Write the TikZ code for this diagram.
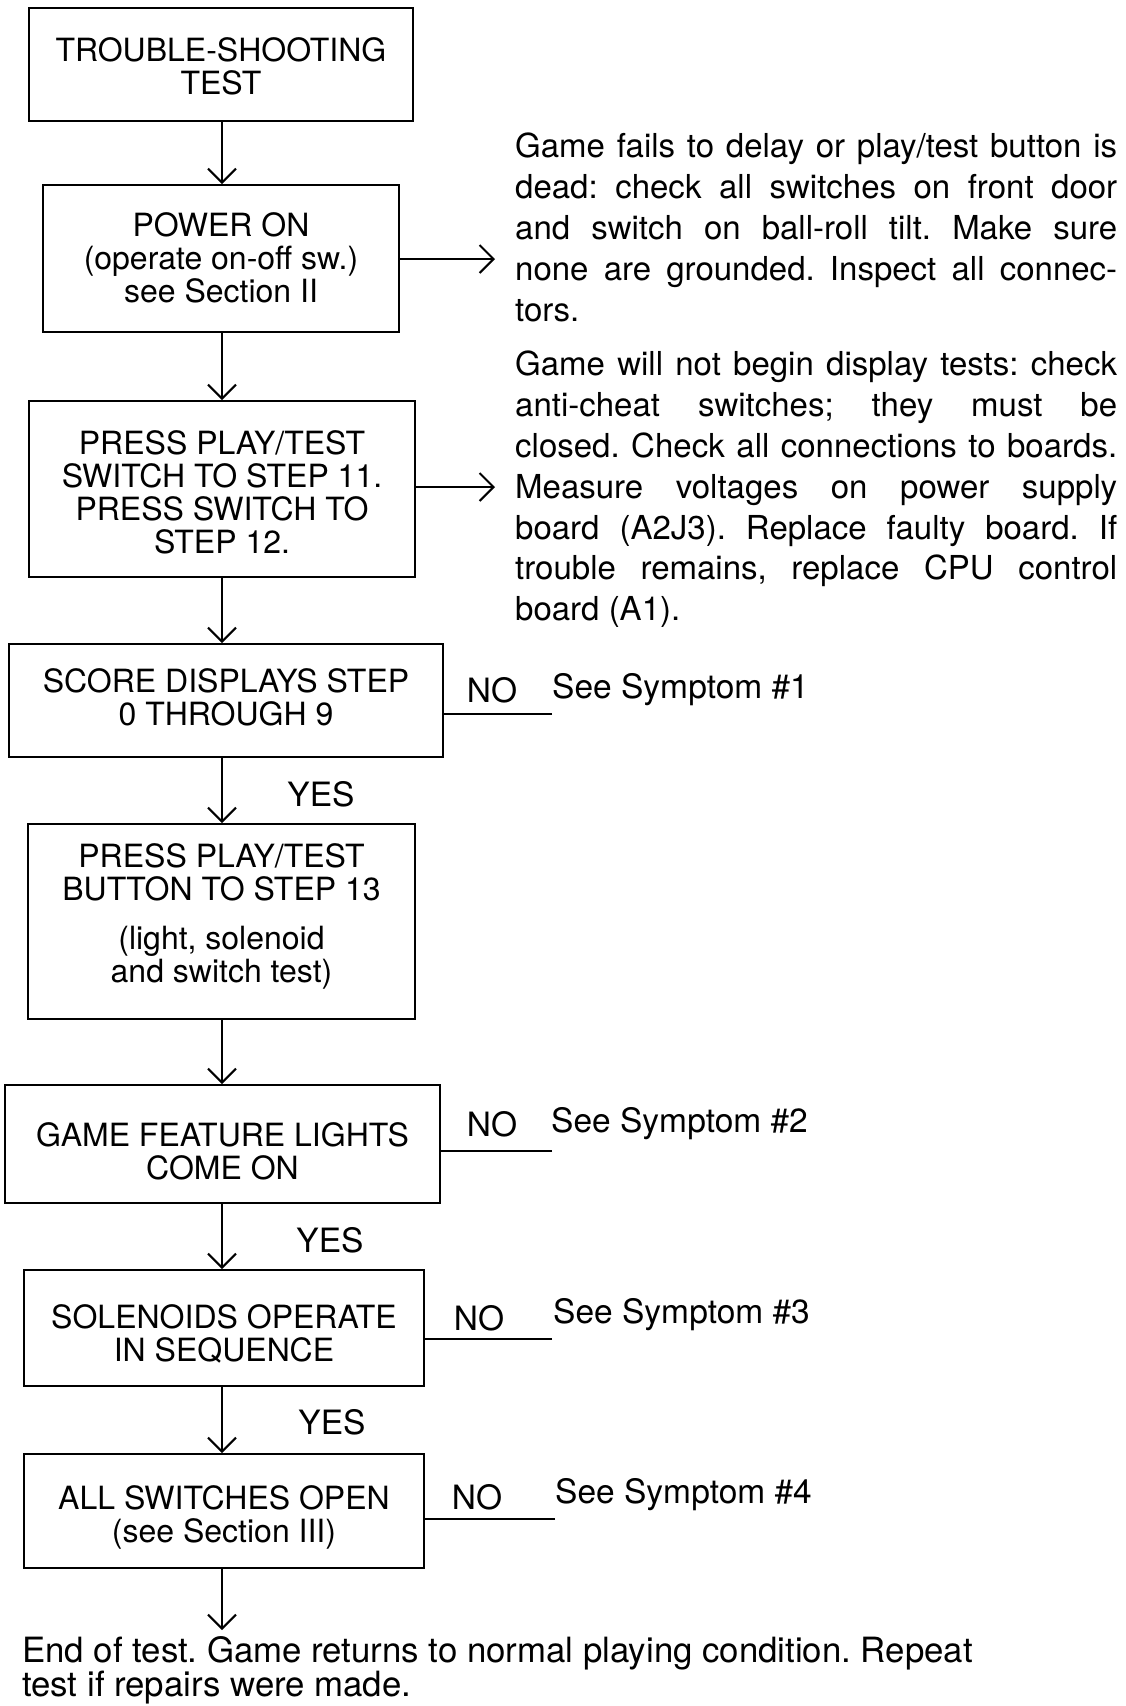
\documentclass[tikz,border=0pt]{standalone}
\usepackage{fontspec}
\setmainfont{TeX Gyre Heros}
\usetikzlibrary{arrows.meta}
\frenchspacing
\begin{document}
\begin{tikzpicture}[x=1pt,y=-1pt,
  box/.style={draw, line width=2pt, rectangle, inner sep=0pt},
  btxt/.style={align=center, inner sep=0pt, font=\fontsize{32}{33}\selectfont\frenchspacing},
  arr/.style={line width=2pt, -{Straight Barb[length=14pt,width=28pt]}},
  ln/.style={line width=2pt},
  lbl/.style={inner sep=0pt, font=\fontsize{33.5}{40.8}\selectfont},
  para/.style={inner sep=0pt, text width=602pt, align=justify,
    font=\fontsize{33}{40.8}\selectfont\frenchspacing}]
\useasboundingbox (0,0) rectangle (1125,1706);
% boxes
\node[box, minimum width=384pt, minimum height=113pt] (b1) at (221,64.5) {};
\node[box, minimum width=356pt, minimum height=147pt] (b2) at (221,258.5) {};
\node[box, minimum width=386pt, minimum height=176pt] (b3) at (222,489) {};
\node[box, minimum width=434pt, minimum height=113pt] (b4) at (226,700.5) {};
\node[box, minimum width=387pt, minimum height=195pt] (b5) at (221.5,921.5) {};
\node[box, minimum width=435pt, minimum height=118pt] (b6) at (222.5,1144) {};
\node[box, minimum width=400pt, minimum height=116pt] (b7) at (224,1328) {};
\node[box, minimum width=400pt, minimum height=114pt] (b8) at (224,1511) {};
% box texts
\node[btxt] (b1t) at ([yshift=-1.6pt]b1.center) {TROUBLE-SHOOTING\\TEST};
\node[btxt] (b2t) at ([yshift=1pt]b2.center) {POWER ON\\(operate on-off sw.)\\see Section II};
\node[btxt] (b3t) at ([yshift=-3pt]b3.center) {PRESS PLAY/TEST\\SWITCH TO STEP 11.\\PRESS SWITCH TO\\STEP 12.};
\node[btxt] (b4t) at ([yshift=2.7pt]b4.center) {SCORE DISPLAYS STEP\\0 THROUGH 9};
\node[btxt] (b5t) at ([yshift=5pt]b5.center) {PRESS PLAY/TEST\\BUTTON TO STEP 13\\[16pt](light, solenoid\\and switch test)};
\node[btxt] (b6t) at ([yshift=-7pt]b6.center) {GAME FEATURE LIGHTS\\COME ON};
\node[btxt] (b7t) at ([yshift=-5.4pt]b7.center) {SOLENOIDS OPERATE\\IN SEQUENCE};
\node[btxt] (b8t) at ([yshift=-6pt]b8.center) {ALL SWITCHES OPEN\\(see Section III)};
% vertical arrows
\draw[arr] (b1.south -| 222,0) -- (b2.north -| 222,0);
\draw[arr] (b2.south -| 222,0) -- (b3.north -| 222,0);
\draw[arr] (b3.south -| 222,0) -- (b4.north -| 222,0);
\draw[arr] (b4.south -| 222,0) -- (b5.north -| 222,0);
\draw[arr] (b5.south -| 222,0) -- (b6.north -| 222,0);
\draw[arr] (b6.south -| 222,0) -- (b7.north -| 222,0);
\draw[arr] (b7.south -| 222,0) -- (b8.north -| 222,0);
\coordinate (endc) at (222,1630);
\draw[arr] (b8.south -| 222,0) -- (endc);
% side texts
\node[para, anchor=north west] (t1) at (515,133) {Game fails to delay or play/test button is\linebreak dead: check all switches on front door\linebreak and switch on ball-roll tilt. Make sure\linebreak none are grounded. Inspect all connec-\linebreak tors.};
\node[para, anchor=north west] (t2) at (515,351) {Game will not begin display tests: check\linebreak anti-cheat switches; they must be\linebreak closed. Check all connections to boards.\linebreak Measure voltages on power supply\linebreak board (A2J3). Replace faulty board. If\linebreak trouble remains, replace CPU control\linebreak board (A1).};
\coordinate (a1) at (495,259);
\coordinate (a2) at (495,487);
\draw[arr] (b2.east |- a1) -- (a1);
\draw[arr] (b3.east |- a2) -- (a2);
% NO branches
\coordinate (n1) at (552,714);
\coordinate (n2) at (552,1151);
\coordinate (n3) at (552,1339);
\coordinate (n4) at (555,1519);
\draw[ln] (n1) -- (n1 -| b4.east);
\draw[ln] (n2) -- (n2 -| b6.east);
\draw[ln] (n3) -- (n3 -| b7.east);
\draw[ln] (n4) -- (n4 -| b8.east);
\node[lbl] (no1) at (492,690) {NO};
\node[lbl] (no2) at (492,1124) {NO};
\node[lbl] (no3) at (479,1318) {NO};
\node[lbl] (no4) at (477,1497) {NO};
\node[lbl, anchor=west] (s1) at (552,690) {See Symptom \#1};
\node[lbl, anchor=west] (s2) at (551,1124) {See Symptom \#2};
\node[lbl, anchor=west] (s3) at (553,1315) {See Symptom \#3};
\node[lbl, anchor=west] (s4) at (555,1495) {See Symptom \#4};
% YES labels
\node[lbl] (y1) at (321,794) {YES};
\node[lbl] (y2) at (330,1240) {YES};
\node[lbl] (y3) at (332,1422) {YES};
% end text
\node[inner sep=0pt, anchor=north west, align=left, font=\fontsize{34.8}{28}\selectfont\frenchspacing] (et) at (22,1636) {End of test. Game returns to normal playing condition. Repeat\\test if repairs were made.};
\end{tikzpicture}
\end{document}
